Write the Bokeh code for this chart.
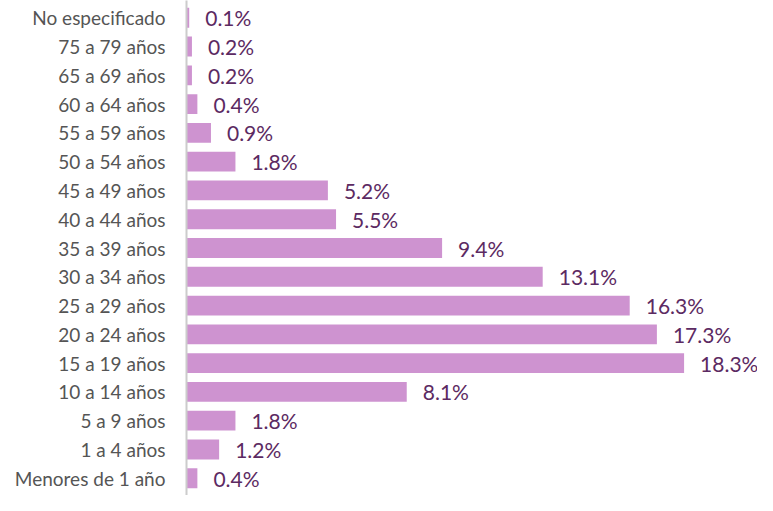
from bokeh.plotting import figure
from bokeh.models import ColumnDataSource, Range1d
from bokeh.core.properties import value
from bokeh.embed import file_html
from bokeh.resources import INLINE

categories = ["Menores de 1 año", "1 a 4 años", "5 a 9 años", "10 a 14 años",
              "15 a 19 años", "20 a 24 años", "25 a 29 años", "30 a 34 años",
              "35 a 39 años", "40 a 44 años", "45 a 49 años", "50 a 54 años",
              "55 a 59 años", "60 a 64 años", "65 a 69 años", "75 a 79 años",
              "No especificado"]
values = [0.4, 1.2, 1.8, 8.1, 18.3, 17.3, 16.3, 13.1, 9.4, 5.5, 5.2, 1.8,
          0.9, 0.4, 0.2, 0.2, 0.1]
labels = [f"{v:.1f}%" for v in values]

src = ColumnDataSource(dict(cat=categories, val=values, lab=labels))

p = figure(y_range=categories, x_range=Range1d(0, 21.0),
           width=757, height=495, output_backend="svg", toolbar_location=None,
           min_border_left=186, min_border_right=0, min_border_top=0, min_border_bottom=0)
p.y_range.range_padding = 0.2 / 17

p.hbar(y="cat", right="val", left=0, height=0.69, source=src,
       fill_color="#CE93D0", line_color=None)
p.text(x="val", y="cat", text="lab", source=src, x_offset=16,
       text_baseline="middle", text_align="left", text_font=value("Lato"),
       text_font_size="21px", text_color="#5C2A62")

p.xaxis.visible = False
p.xgrid.visible = False
p.ygrid.visible = False
p.outline_line_color = None
p.yaxis.axis_line_color = "#CCCCCC"
p.yaxis.axis_line_width = 2
p.yaxis.major_tick_line_color = None
p.yaxis.minor_tick_line_color = None
p.yaxis.major_label_standoff = 15
p.yaxis.major_label_text_font = "Lato"
p.yaxis.major_label_text_font_size = "19px"
p.yaxis.major_label_text_color = "#555555"

open("out.html", "w").write(file_html(p, INLINE))
